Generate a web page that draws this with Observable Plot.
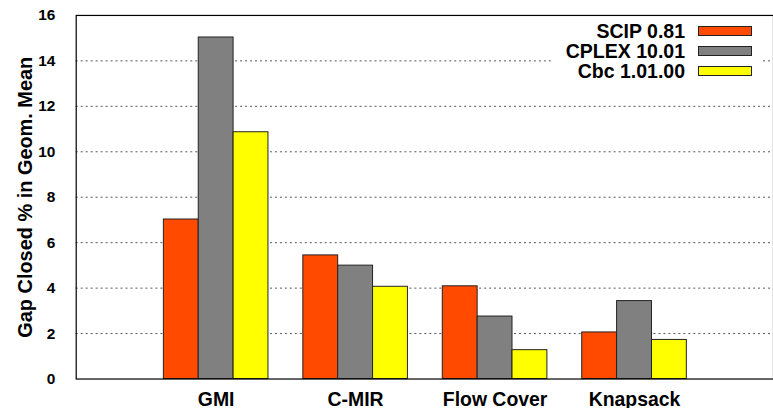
<!DOCTYPE html>
<html><head><meta charset="utf-8">
<script src="https://cdn.jsdelivr.net/npm/d3@7"></script>
<script src="https://cdn.jsdelivr.net/npm/@observablehq/plot@0.6"></script>
<style>
body{margin:0;background:#fff;}
#wrap{position:relative;width:773px;height:410px;overflow:hidden;font-family:"Liberation Sans",Arial,sans-serif;font-weight:bold;}
#wrap svg [aria-label^="y-axis"] text{font-size:15.5px;font-weight:bold;}
#wrap svg [aria-label^="x-axis"] text{font-size:19.5px;font-weight:bold;}
#legend{position:absolute;left:553px;top:20px;width:210px;height:61px;background:#fff;}
.row{position:absolute;left:0;height:20px;display:flex;align-items:center;}
.row span{display:inline-block;width:132px;text-align:right;font-size:19.5px;line-height:20px;color:#000;}
.row i{display:inline-block;width:54px;height:10px;margin-left:13px;box-sizing:border-box;border:1px solid #222;}
</style>
</head><body>
<div id="wrap"><div id="legend"></div></div>
<script>
const categories = ["GMI", "C-MIR", "Flow Cover", "Knapsack"];
const seriesNames = ["SCIP 0.81", "CPLEX 10.01", "Cbc 1.01.00"];
const scipValues = [7.02, 5.44, 4.08, 2.05];
const cplexValues = [15.03, 4.99, 2.75, 3.43];
const cbcValues = [10.86, 4.06, 1.27, 1.72];
const seriesColors = ["#ff4a00", "#808080", "#ffff00"];
const yTicks = [0, 2, 4, 6, 8, 10, 12, 14, 16];
const gridTicks = [2, 4, 6, 8, 10, 12, 14];
const yLabel = "Gap Closed % in Geom. Mean";

const allValues = [scipValues, cplexValues, cbcValues];
const rows = [];
allValues.forEach((vals, k) => vals.forEach((v, i) => rows.push({category: categories[i], series: seriesNames[k], k, value: v})));

const barW = 35;
const barMarks = seriesNames.map((s, k) =>
  Plot.barY(rows.filter(d => d.k === k), {
    x: "category", y: "value", fill: seriesColors[k], stroke: "#222", strokeWidth: 1,
    insetLeft: barW * k, insetRight: barW * (2 - k)
  })
);

const chart = Plot.plot({
  width: 776, height: 410,
  marginLeft: 76, marginRight: 0, marginTop: 15, marginBottom: 30,
  style: {fontFamily: "'Liberation Sans', Arial, sans-serif", fontWeight: "bold", color: "#000", background: "#fff"},
  x: {domain: categories, paddingInner: 0.25, paddingOuter: 0.625, axis: null},
  y: {domain: [0, 16], axis: null},
  marks: [
    Plot.ruleY(gridTicks, {stroke: "#555", strokeWidth: 1, strokeDasharray: "2,3"}),
    ...barMarks,
    Plot.frame({stroke: "#000", strokeWidth: 1.2}),
    Plot.axisY(yTicks, {tickSize: 0, tickPadding: 21, fontSize: 15.5, fontWeight: "bold", label: null}),
    Plot.axisX(categories, {tickSize: 0, tickPadding: 13, fontSize: 19.5, fontWeight: "bold", label: null}),
    Plot.text([yLabel], {frameAnchor: "left", textAnchor: "middle", rotate: -90, dx: -51, fontSize: 20, fontWeight: "bold", fill: "#000"})
  ]
});
document.getElementById("wrap").prepend(chart);

const legend = document.getElementById("legend");
seriesNames.forEach((s, k) => {
  const r = document.createElement("div");
  r.className = "row";
  r.style.top = (0.7 + 20 * k) + "px";
  const t = document.createElement("span"); t.textContent = s;
  const sw = document.createElement("i"); sw.style.background = seriesColors[k];
  r.append(t, sw);
  legend.append(r);
});
</script>
</body></html>
